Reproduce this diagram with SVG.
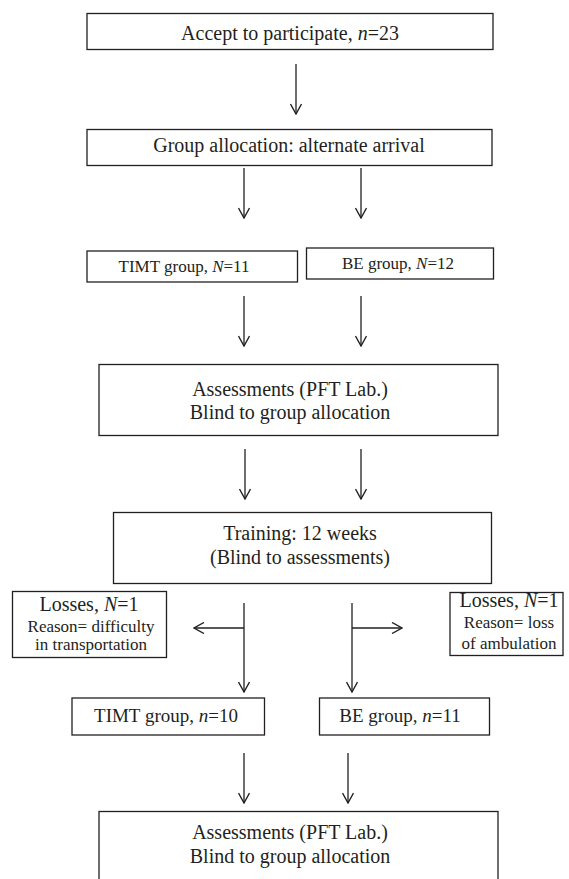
<svg xmlns="http://www.w3.org/2000/svg" width="569" height="879" viewBox="0 0 569 879" font-family="'Liberation Serif', 'DejaVu Serif', serif">
<defs>
<marker id="ah" viewBox="0 0 12 12" refX="11" refY="6" markerWidth="12" markerHeight="12" markerUnits="userSpaceOnUse" orient="auto">
<path d="M1,0.5 L11,6 L1,11.5" fill="none" stroke="#231f20" stroke-width="1.4"/>
</marker>
<style>
rect{fill:#fff;stroke:#231f20;stroke-width:1.3}
text{font-family:'Liberation Serif', 'DejaVu Serif', serif;fill:#231f20;text-anchor:middle}
.l{font-size:20px}
.m{font-size:17px}
.n{font-size:19px}
#connectors line{stroke:#231f20;stroke-width:1.3;marker-end:url(#ah)}
</style>
</defs>
<rect width="569" height="879" style="fill:#fff;stroke:none"/>
<g id="connectors">
<line x1="296" y1="64" x2="296" y2="114"/>
<line x1="244" y1="168" x2="244" y2="218"/>
<line x1="361" y1="168" x2="361" y2="218"/>
<line x1="244" y1="296" x2="244" y2="346"/>
<line x1="361" y1="296" x2="361" y2="346"/>
<line x1="245" y1="449" x2="245" y2="499"/>
<line x1="361" y1="449" x2="361" y2="499"/>
<line x1="244" y1="603" x2="244" y2="692"/>
<line x1="244" y1="628" x2="194" y2="628"/>
<line x1="352" y1="603" x2="352" y2="692"/>
<line x1="352" y1="628" x2="402" y2="628"/>
<line x1="244" y1="753" x2="244" y2="803"/>
<line x1="348" y1="753" x2="348" y2="803"/>
</g>
<g id="accept">
<rect x="87" y="13.5" width="406" height="36"/>
<text class="l" x="290" y="40">Accept to participate, <tspan font-style="italic">n</tspan>=23</text>
</g>
<g id="allocation">
<rect x="87" y="129.5" width="405" height="36"/>
<text class="l" x="289" y="152">Group allocation: alternate arrival</text>
</g>
<g id="timt1">
<rect x="87" y="251" width="210.5" height="31"/>
<text class="m" x="184" y="272">TIMT group, <tspan font-style="italic">N</tspan>=11</text>
</g>
<g id="be1">
<rect x="306.5" y="248" width="187" height="31"/>
<text class="m" x="398" y="269">BE group, <tspan font-style="italic">N</tspan>=12</text>
</g>
<g id="assess1">
<rect x="99" y="364.5" width="399" height="71"/>
<text class="l" x="290" y="396">Assessments (PFT Lab.)</text>
<text class="l" x="290" y="419">Blind to group allocation</text>
</g>
<g id="training">
<rect x="113.5" y="512.5" width="378" height="71"/>
<text class="l" x="300" y="540">Training: 12 weeks</text>
<text class="l" x="300" y="564">(Blind to assessments)</text>
</g>
<g id="loss-left">
<rect x="12.5" y="591.5" width="154" height="66"/>
<text class="l" x="89" y="611">Losses, <tspan font-style="italic">N</tspan>=1</text>
<text class="m" x="91" y="632">Reason= difficulty</text>
<text class="m" x="91" y="650">in transportation</text>
</g>
<g id="loss-right">
<rect x="450" y="592.5" width="113" height="63"/>
<text class="l" x="509" y="607">Losses, <tspan font-style="italic">N</tspan>=1</text>
<text class="m" x="509" y="628">Reason= loss</text>
<text class="m" x="509" y="649">of ambulation</text>
</g>
<g id="timt2">
<rect x="72" y="698" width="192.5" height="37"/>
<text class="n" x="166" y="722">TIMT group, <tspan font-style="italic">n</tspan>=10</text>
</g>
<g id="be2">
<rect x="319.5" y="698" width="170" height="37"/>
<text class="n" x="400" y="722">BE group, <tspan font-style="italic">n</tspan>=11</text>
</g>
<g id="assess2">
<rect x="99" y="811.5" width="399" height="80"/>
<text class="l" x="290" y="839">Assessments (PFT Lab.)</text>
<text class="l" x="290" y="863">Blind to group allocation</text>
</g>
</svg>
